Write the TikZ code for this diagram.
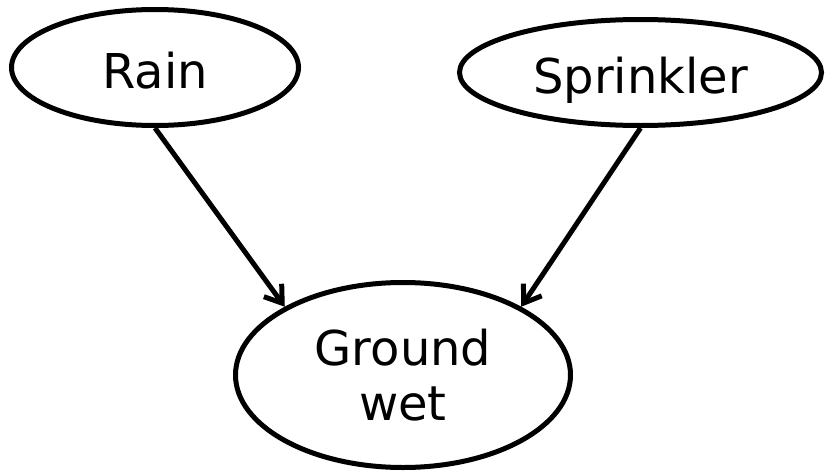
\documentclass[tikz,border=0pt]{standalone}
\usepackage{fontspec}
\setmainfont{DejaVu Sans}
\usetikzlibrary{shapes.geometric,arrows.meta}

\tikzset{
  var/.style={ellipse, draw, line width=5pt, inner sep=0pt,
    font=\fontsize{48}{55}\selectfont, align=center},
  oneline/.style={text height=42pt, text depth=0pt},
  causal/.style={line width=5pt, -{Straight Barb[length=16pt,width=22pt]}}
}

\begin{document}
\begin{tikzpicture}[x=1pt,y=-1pt]
  \useasboundingbox (0,0) rectangle (825,474);

  % the three variables of the network
  \node[var, oneline, minimum width=287pt, minimum height=116pt] (rain) at (155,67.5) {Rain};
  \node[var, oneline, minimum width=362pt, minimum height=106pt] (sprinkler) at (640.5,72.5) {Sprinkler};
  \node[var, minimum width=335pt, minimum height=185pt] (ground) at (403,375) {Ground\\wet};

  % causal links
  \draw[causal] (rain.south) -- (ground.150);
  \draw[causal] (sprinkler.south) -- (ground.30);
\end{tikzpicture}
\end{document}
